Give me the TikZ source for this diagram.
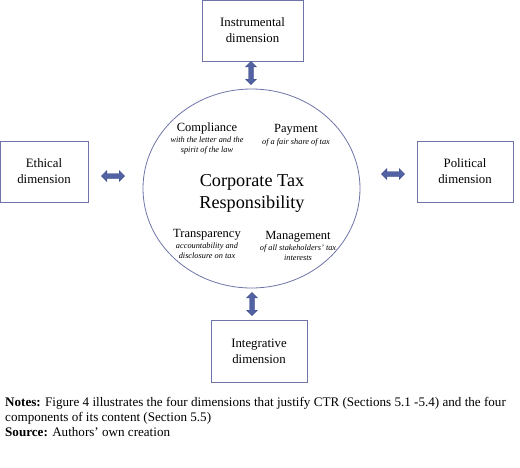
\documentclass[tikz,border=0pt]{standalone}
\usepackage{fontspec}
\setmainfont{Liberation Serif}
\usetikzlibrary{shapes.arrows,shapes.geometric}
\definecolor{lineblue}{HTML}{6E74A8}
\definecolor{arrowblue}{HTML}{5262A2}
\definecolor{arrowedge}{HTML}{3F4C8A}
\tikzset{
  dimbox/.style={draw=lineblue, line width=0.8pt, fill=white, align=center, font=\fontsize{12.8}{16}\selectfont},
  blockarrow/.style={double arrow, draw=arrowedge, fill=arrowblue, line width=0.4pt, double arrow head extend=2.8pt, double arrow head indent=0pt, inner xsep=0pt, inner ysep=2.3pt, minimum height=23pt},
  comp/.style={align=center, font=\fontsize{12.5}{14}\selectfont, inner sep=0pt},
  compsub/.style={align=center, font=\fontsize{8.3}{9.6}\selectfont\itshape, inner sep=0pt},
}
\begin{document}
\begin{tikzpicture}[x=1pt,y=-1pt]
\useasboundingbox (0,0) rectangle (520,467);
% central ellipse
\node[ellipse, draw=lineblue, line width=0.8pt, minimum width=217pt, minimum height=199pt, inner sep=0pt] (ctr) at (251.5,188.5) {};
\node[align=center, font=\fontsize{18.2}{22}\selectfont, inner sep=0pt] (title) at (252,193) {Corporate Tax\\Responsibility};
% components
\node[comp] (compl) at (207,128) {Compliance};
\node[compsub, anchor=north] (complsub) at (207,136.5) {with the letter and the\\spirit of the law};
\node[comp] (pay) at (296,130) {Payment};
\node[compsub, anchor=north] (paysub) at (296,138.5) {of a fair share of tax};
\node[comp] (transp) at (207,235) {Transparency};
\node[compsub, anchor=north] (transpsub) at (207,243) {accountability and\\disclosure on tax};
\node[comp] (mgmt) at (298,237) {Management};
\node[compsub, anchor=north] (mgmtsub) at (298,244.5) {of all stakeholders' tax\\interests};
% dimension boxes
\node[dimbox, minimum width=101pt, minimum height=61pt] (instr) at (252.5,30.5) {Instrumental\\dimension};
\node[dimbox, minimum width=88pt, minimum height=61pt] (ethic) at (44,171.5) {Ethical\\dimension};
\node[dimbox, minimum width=96pt, minimum height=61pt] (polit) at (465,171.5) {Political\\dimension};
\node[dimbox, minimum width=96pt, minimum height=62pt] (integ) at (259,351) {Integrative\\dimension};
% block arrows
\node[blockarrow, rotate=90] (a1) at (251,73) {};
\node[blockarrow] (a2) at (113,176) {};
\node[blockarrow] (a3) at (393,174) {};
\node[blockarrow, rotate=90] (a4) at (252,304) {};
% notes
\node[anchor=north west, align=left, inner sep=0pt, font=\fontsize{13.1}{15}\selectfont] (notes) at (5,397) {\textbf{Notes:} Figure 4 illustrates the four dimensions that justify CTR (Sections 5.1 -5.4) and the four\\components of its content (Section 5.5)\\\textbf{Source:} Authors’ own creation};
\end{tikzpicture}
\end{document}
